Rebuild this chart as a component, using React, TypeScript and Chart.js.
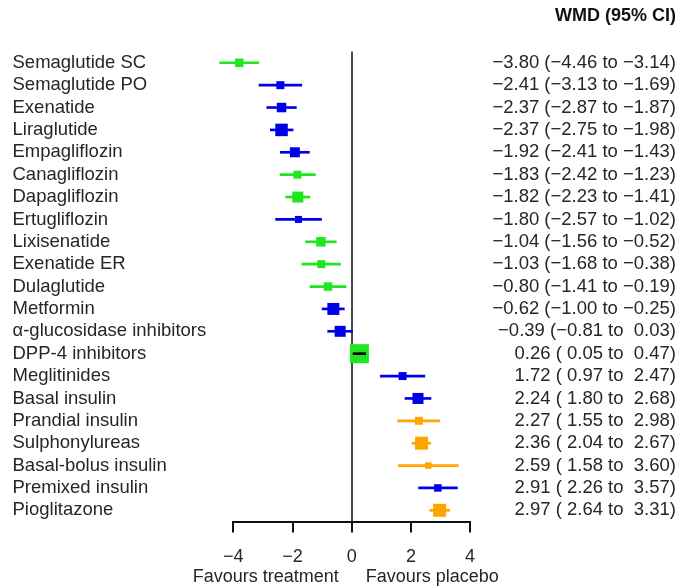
import React, { useEffect, useRef } from 'react';
import { Chart, registerables } from 'chart.js';

Chart.register(...registerables);

// ---- data ----
const treatments = [
  'Semaglutide SC',
  'Semaglutide PO',
  'Exenatide',
  'Liraglutide',
  'Empagliflozin',
  'Canagliflozin',
  'Dapagliflozin',
  'Ertugliflozin',
  'Lixisenatide',
  'Exenatide ER',
  'Dulaglutide',
  'Metformin',
  'α-glucosidase inhibitors',
  'DPP-4 inhibitors',
  'Meglitinides',
  'Basal insulin',
  'Prandial insulin',
  'Sulphonylureas',
  'Basal-bolus insulin',
  'Premixed insulin',
  'Pioglitazone',
];

const estimates = [
  -3.8, -2.41, -2.37, -2.37, -1.92, -1.83, -1.82, -1.8, -1.04, -1.03, -0.8,
  -0.62, -0.39, 0.26, 1.72, 2.24, 2.27, 2.36, 2.59, 2.91, 2.97,
];

const lowerCI = [
  -4.46, -3.13, -2.87, -2.75, -2.41, -2.42, -2.23, -2.57, -1.56, -1.68, -1.41,
  -1.0, -0.81, 0.05, 0.97, 1.8, 1.55, 2.04, 1.58, 2.26, 2.64,
];

const upperCI = [
  -3.14, -1.69, -1.87, -1.98, -1.43, -1.23, -1.41, -1.02, -0.52, -0.38, -0.19,
  -0.25, 0.03, 0.47, 2.47, 2.68, 2.98, 2.67, 3.6, 3.57, 3.31,
];

// colour group of each row: g = green, b = blue, o = orange
const colourGroup = [
  'g', 'b', 'b', 'b', 'b', 'g', 'g', 'b', 'g', 'g', 'g',
  'b', 'b', 'g', 'b', 'b', 'o', 'o', 'o', 'b', 'o',
];

// relative box weights (square side)
const boxWeight = [
  8.5, 8, 9.5, 12.5, 10, 8, 11, 7, 9.5, 8, 8.5,
  12, 11, 19, 8, 11, 8, 13, 6.5, 7.5, 13,
];

const xTicks = [-4, -2, 0, 2, 4];

const headerText = 'WMD (95% CI)';
const favoursLeft = 'Favours treatment';
const favoursRight = 'Favours placebo';

// ---- styles ----
const palette: Record<string, string> = {
  g: '#1fe61f',
  b: '#0000e6',
  o: '#ffa500',
};
const FONT = "'Liberation Sans', Arial, Helvetica, sans-serif";
const TEXT = '#262626';

const fmt = (v: number) =>
  v < 0 ? '\u2212' + Math.abs(v).toFixed(2) : ' ' + v.toFixed(2);

const ciTexts = treatments.map(
  (_, i) =>
    `${fmt(estimates[i]).trim()} (${fmt(lowerCI[i])} to ${fmt(upperCI[i])})`
);

const favoursPlugin = {
  id: 'favours',
  afterDraw(chart: any) {
    const xs = chart.scales.x;
    if (!xs) return;
    const ctx = chart.ctx;
    const x0 = xs.getPixelForValue(0);
    const y = xs.bottom - 11;
    ctx.save();
    ctx.font = `18px ${FONT}`;
    ctx.fillStyle = TEXT;
    ctx.textBaseline = 'middle';
    ctx.textAlign = 'right';
    ctx.fillText(favoursLeft, x0 - 13, y);
    ctx.textAlign = 'left';
    ctx.fillText(favoursRight, x0 + 14, y);
    ctx.restore();
  },
};

export default function App() {
  const ref = useRef<HTMLCanvasElement | null>(null);

  useEffect(() => {
    if (!ref.current) return;
    const colors = colourGroup.map((g) => palette[g]);
    const chart = new Chart(ref.current, {
      type: 'bar',
      data: {
        labels: treatments,
        datasets: [
          {
            type: 'bar',
            data: treatments.map((_, i) => [lowerCI[i], upperCI[i]]) as any,
            backgroundColor: (ctx: any) => {
              const i = ctx.dataIndex;
              const xs = ctx.chart.scales.x;
              if (xs && i != null) {
                const w =
                  xs.getPixelForValue(upperCI[i]) -
                  xs.getPixelForValue(lowerCI[i]);
                if (w < boxWeight[i]) return '#000';
              }
              return colors[i];
            },
            borderWidth: 0,
            barThickness: 2,
            clip: false as any,
            xAxisID: 'x',
            yAxisID: 'y',
          } as any,
          {
            type: 'scatter',
            data: treatments.map((t, i) => ({ x: estimates[i], y: t })) as any,
            pointStyle: 'rect',
            pointRadius: boxWeight.map((s) => s / Math.SQRT2),
            pointHoverRadius: boxWeight.map((s) => s / Math.SQRT2),
            backgroundColor: colors,
            borderWidth: 0,
            showLine: false,
            clip: false as any,
            xAxisID: 'x',
            yAxisID: 'y',
          } as any,
        ],
      },
      options: {
        indexAxis: 'y',
        animation: false,
        responsive: false,
        events: [],
        layout: { padding: { left: 12.5, right: 3, top: 0, bottom: 0 } },
        plugins: {
          legend: { display: false },
          tooltip: { enabled: false },
          title: {
            display: true,
            text: headerText,
            align: 'end',
            color: '#111',
            font: { family: FONT, size: 18, weight: 'bold', lineHeight: 1.2 },
            padding: { top: 5, bottom: 25 },
          },
        },
        scales: {
          x: {
            type: 'linear',
            position: 'bottom',
            min: xTicks[0],
            max: xTicks[xTicks.length - 1],
            afterBuildTicks: (s: any) => {
              s.ticks = xTicks.map((v) => ({ value: v }));
            },
            afterFit: (s: any) => {
              s.height = 66.5;
            },
            ticks: {
              color: TEXT,
              font: { family: FONT, size: 18 },
              padding: 13.4,
              callback: (v: any) =>
                Number(v) < 0 ? '\u2212' + Math.abs(Number(v)) : String(v),
            },
            grid: {
              color: (ctx: any) =>
                ctx.tick && ctx.tick.value === 0 ? '#4a4a4a' : 'rgba(0,0,0,0)',
              lineWidth: 2,
              tickColor: '#111',
              tickLength: 11,
              tickWidth: 2,
              drawTicks: true,
            },
            border: { display: true, color: '#111', width: 2 },
          },
          y: {
            type: 'category',
            position: 'left',
            offset: true,
            grid: { display: false },
            border: { display: false },
            afterFit: (s: any) => {
              s.width = 220.8;
            },
            ticks: {
              crossAlign: 'far',
              autoSkip: false,
              color: TEXT,
              font: { family: FONT, size: 18.5 },
              padding: 0,
            },
          },
          y2: {
            type: 'category',
            position: 'right',
            labels: ciTexts,
            offset: true,
            grid: { display: false },
            border: { display: false },
            afterFit: (s: any) => {
              s.width = 205.9;
            },
            ticks: {
              crossAlign: 'far',
              autoSkip: false,
              color: TEXT,
              font: { family: FONT, size: 18.5 },
              padding: 0,
            },
          },
        },
      } as any,
      plugins: [favoursPlugin],
    });
    return () => chart.destroy();
  }, []);

  return (
    <div
      style={{
        position: 'fixed',
        left: 0,
        top: 0,
        width: 679,
        height: 588,
        background: '#fff',
      }}
    >
      <canvas ref={ref} width={679} height={588} style={{ display: 'block' }} />
    </div>
  );
}
